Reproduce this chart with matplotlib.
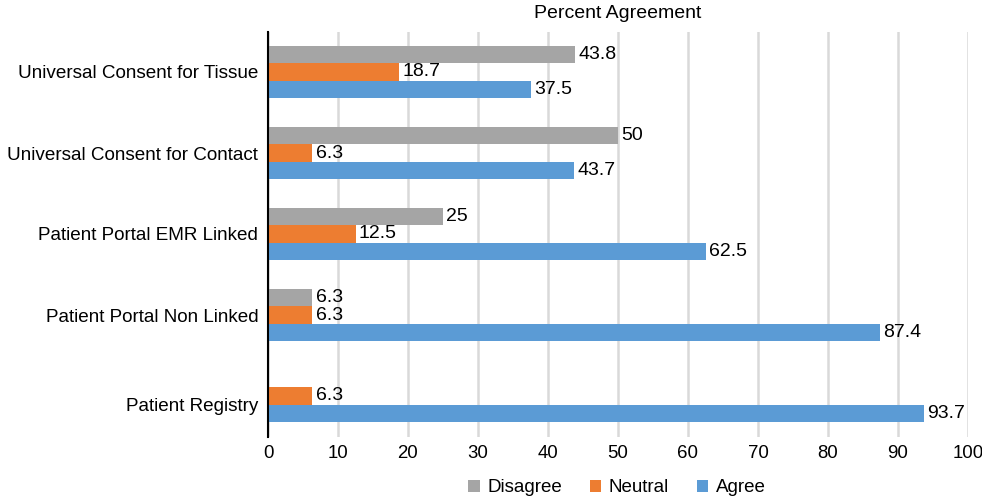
import matplotlib
matplotlib.use("Agg")
import matplotlib.pyplot as plt
import numpy as np
from matplotlib.patches import Patch

plt.rcParams['font.family'] = ['Liberation Sans', 'DejaVu Sans']

categories = ["Universal Consent for Tissue", "Universal Consent for Contact",
              "Patient Portal EMR Linked", "Patient Portal Non Linked", "Patient Registry"]
series_names = ["Disagree", "Neutral", "Agree"]
disagree = [43.8, 50, 25, 6.3, None]
neutral = [18.7, 6.3, 12.5, 6.3, 6.3]
agree = [37.5, 43.7, 62.5, 87.4, 93.7]
colors = ["#a5a5a5", "#ed7d31", "#5b9bd5"]
xticks = list(range(0, 101, 10))

fig = plt.figure(figsize=(9.82, 4.99), dpi=100)
ax = fig.add_axes([268/982, 1-436.5/499, 700/982, 405/499])

h = 0.21
offsets = [-h, 0, h]
all_series = [disagree, neutral, agree]
tick_pos = []
for i in range(len(categories)):
    present = []
    for s, (vals, col) in enumerate(zip(all_series, colors)):
        v = vals[i]
        if v is None:
            continue
        y = i + offsets[s]
        present.append(y)
        ax.barh(y, v, height=h, color=col, zorder=3)
        ax.annotate(f"{v:g}", (v, y), xytext=(2.5, 0), textcoords="offset points",
                    va="center", ha="left", fontsize=14, color="#000000")
    tick_pos.append(np.mean(present))

ax.set_ylim(4.5, -0.5)
ax.set_xlim(0, 100)
ax.set_xticks(xticks)
ax.set_yticks(tick_pos)
ax.set_yticklabels(categories, fontsize=13.6)
ax.tick_params(axis='x', length=0, labelsize=13.4, pad=6)
ax.tick_params(axis='y', length=0, pad=7)
ax.xaxis.grid(True, color="#d9d9d9", linewidth=1.8, zorder=0)
ax.set_axisbelow(True)
for sp in ["top", "right", "bottom"]:
    ax.spines[sp].set_visible(False)
ax.spines["left"].set_color("black")
ax.spines["left"].set_linewidth(1.5)
ax.spines["left"].set_zorder(5)

fig.text(618/982, 1-13/499, "Percent Agreement", ha="center", va="center", fontsize=14)

handles = [Patch(facecolor=c, edgecolor='none') for c in colors]
fig.legend(handles, series_names, loc="center", bbox_to_anchor=(617/982, 1-488/499),
           ncol=3, frameon=False, fontsize=13.5, handlelength=0.6, handleheight=0.6,
           handletextpad=0.4, columnspacing=1.5)

fig.savefig("out.png", dpi=100)
